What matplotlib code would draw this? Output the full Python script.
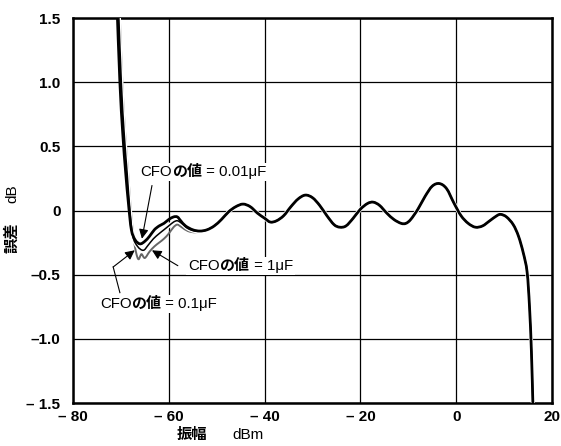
import numpy as np
import matplotlib
matplotlib.use("Agg")
import matplotlib.pyplot as plt
import matplotlib.patheffects as pe
from matplotlib.path import Path
from matplotlib.patches import PathPatch
from matplotlib.offsetbox import TextArea, HPacker, AnnotationBbox

FAM = ["Liberation Sans", "Noto Sans CJK JP", "DejaVu Sans"]
plt.rcParams["font.family"] = FAM

# shared tail of all three curves (dBm, dB)
tail_x = [-52.0, -50.5, -49.0, -47.5, -46.0, -44.5, -43.0, -41.5, -40.0, -38.8,
          -37.5, -36.0, -34.5, -33.0, -31.5, -30.0, -28.5, -27.0, -25.5, -24.3,
          -23.0, -21.5, -20.0, -18.5, -17.3, -16.0, -14.5, -13.0, -11.5, -10.5,
          -9.5, -8.0, -6.5, -5.0, -3.5, -2.0, -0.5, 1.0, 2.5, 4.0,
          5.5, 7.0, 8.5, 9.3, 10.5, 11.9, 13.0, 14.0, 14.8, 15.3, 15.7, 16.0]
tail_y = [-0.15, -0.12, -0.07, -0.01, 0.03, 0.05, 0.03, -0.02, -0.06, -0.09,
          -0.08, -0.04, 0.03, 0.09, 0.12, 0.10, 0.04, -0.04, -0.11, -0.13,
          -0.12, -0.06, 0.01, 0.055, 0.065, 0.04, -0.02, -0.07, -0.10, -0.10,
          -0.07, 0.01, 0.11, 0.19, 0.21, 0.17, 0.06, -0.04, -0.10, -0.13,
          -0.12, -0.08, -0.04, -0.03, -0.05, -0.11, -0.20, -0.33, -0.48, -0.75, -1.1, -1.5]

# low-level part, per capacitor value
c001_x = [-70.8, -70.2, -69.6, -69.0, -68.4, -67.8, -67.0, -66.0, -65.0, -64.0,
          -63.0, -62.0, -61.0, -60.0, -59.0, -58.2, -57.5, -56.5, -55.0, -53.5]
c001_y = [1.6, 1.0, 0.6, 0.3, 0.05, -0.15, -0.23, -0.26, -0.24, -0.20,
          -0.15, -0.12, -0.10, -0.07, -0.05, -0.05, -0.08, -0.12, -0.15, -0.16]

c1_x = [-70.5, -69.9, -69.3, -68.7, -68.1, -67.5, -66.5, -65.3, -64.3, -63.2,
        -62.0, -61.0, -60.0, -59.0, -58.2, -57.3, -56.0, -54.5, -53.0]
c1_y = [1.6, 1.0, 0.6, 0.3, 0.0, -0.20, -0.28, -0.31, -0.27, -0.22,
        -0.18, -0.15, -0.12, -0.09, -0.08, -0.10, -0.14, -0.16, -0.16]

c01_x = [-70.3, -69.7, -69.1, -68.5, -67.9, -67.3, -66.8, -66.3, -65.7, -65.0,
         -64.0, -63.0, -62.0, -61.0, -60.0, -59.0, -58.2, -57.3, -56.0, -54.5, -53.0]
c01_y = [1.6, 1.0, 0.6, 0.3, 0.0, -0.22, -0.33, -0.38, -0.34, -0.37,
         -0.32, -0.28, -0.25, -0.22, -0.18, -0.13, -0.11, -0.13, -0.16, -0.17, -0.16]

xticks = [-80, -60, -40, -20, 0, 20]
xlabels = ["– 80", "– 60", "– 40", "– 20", "0", "20"]
yticks = [-1.5, -1.0, -0.5, 0, 0.5, 1.0, 1.5]
ylabels = ["– 1.5", "–1.0", "–0.5", "0", "0.5", "1.0", "1.5"]


def smooth_path(xs, ys):
    # Catmull-Rom through the read points, drawn as cubic Bezier segments
    p = np.column_stack([xs, ys]).astype(float)
    verts, codes = [p[0]], [Path.MOVETO]
    for i in range(len(p) - 1):
        p0 = p[i - 1] if i > 0 else p[i]
        p3 = p[i + 2] if i + 2 < len(p) else p[i + 1]
        c1 = p[i] + (p[i + 1] - p0) / 6.0
        c2 = p[i + 1] - (p3 - p[i]) / 6.0
        verts += [c1, c2, p[i + 1]]
        codes += [Path.CURVE4] * 3
    return Path(verts, codes)


fig = plt.figure(figsize=(5.61, 4.46), dpi=100)
ax = fig.add_axes([0.130, 0.0964, 0.854, 0.8632])


def curve(xs, ys, **kw):
    patch = PathPatch(smooth_path(xs, ys), fill=False, capstyle="round",
                      joinstyle="round", **kw)
    ax.add_patch(patch)


curve(c01_x + tail_x, c01_y + tail_y, edgecolor="#666666", lw=1.4, zorder=3)
curve(c1_x + tail_x, c1_y + tail_y, edgecolor="k", lw=1.1, zorder=4,
      path_effects=[pe.Stroke(linewidth=3.0, foreground="white"), pe.Normal()])
curve(c001_x + tail_x, c001_y + tail_y, edgecolor="k", lw=2.0, zorder=5)

ax.set_xlim(-80, 20)
ax.set_ylim(-1.5, 1.5)
ax.set_xticks(xticks)
ax.set_xticklabels(xlabels)
ax.set_yticks(yticks)
ax.set_yticklabels(ylabels)
ax.tick_params(length=0, labelsize=11)
ax.tick_params(axis="y", pad=9)
ax.tick_params(axis="x", pad=5)
for t in ax.get_xticklabels() + ax.get_yticklabels():
    t.set_fontweight("bold")
ax.grid(True, color="k", lw=0.9)
for s in ax.spines.values():
    s.set_linewidth(1.8)


def label(text_val, x, y):
    tp = dict(fontsize=10.8, family=FAM)
    parts = [TextArea("CFO", textprops=tp),
             TextArea("の値", textprops=dict(tp, fontweight="bold")),
             TextArea(" = " + text_val, textprops=tp)]
    box = HPacker(children=parts, pad=0, sep=0, align="baseline")
    ab = AnnotationBbox(box, (x, y), xycoords="data", box_alignment=(0, 0.5),
                        frameon=True, pad=0.15,
                        bboxprops=dict(fc="white", ec="none"), zorder=6)
    ax.add_artist(ab)


arrow = dict(arrowstyle="-|>", color="k", lw=0.8, mutation_scale=14, shrinkA=0, shrinkB=0)

label("0.01μF", -66.0, 0.30)
ax.annotate("", xy=(-65.6, -0.22), xytext=(-63.5, 0.195), arrowprops=arrow, zorder=7)

label("1μF", -56.0, -0.43)
ax.annotate("", xy=(-63.5, -0.31), xytext=(-58.1, -0.43), arrowprops=arrow, zorder=7)

label("0.1μF", -74.4, -0.73)
ax.plot([-70.2, -71.6], [-0.64, -0.44], color="k", lw=0.8, zorder=7)
ax.annotate("", xy=(-67.1, -0.31), xytext=(-71.6, -0.44), arrowprops=arrow, zorder=7)

# axis titles
fig.text(177 / 561, 1 - 435 / 446, "振幅", fontsize=11, fontweight="bold",
         ha="left", va="center")
fig.text(232 / 561, 1 - 435 / 446, "dBm", fontsize=11, ha="left", va="center")
fig.text(12 / 561, 1 - 238 / 446, "誤差", fontsize=11, fontweight="bold",
         rotation=90, ha="center", va="center")
fig.text(12 / 561, 1 - 194 / 446, "dB", fontsize=11, rotation=90,
         ha="center", va="center")

fig.savefig("out.png", dpi=100)
